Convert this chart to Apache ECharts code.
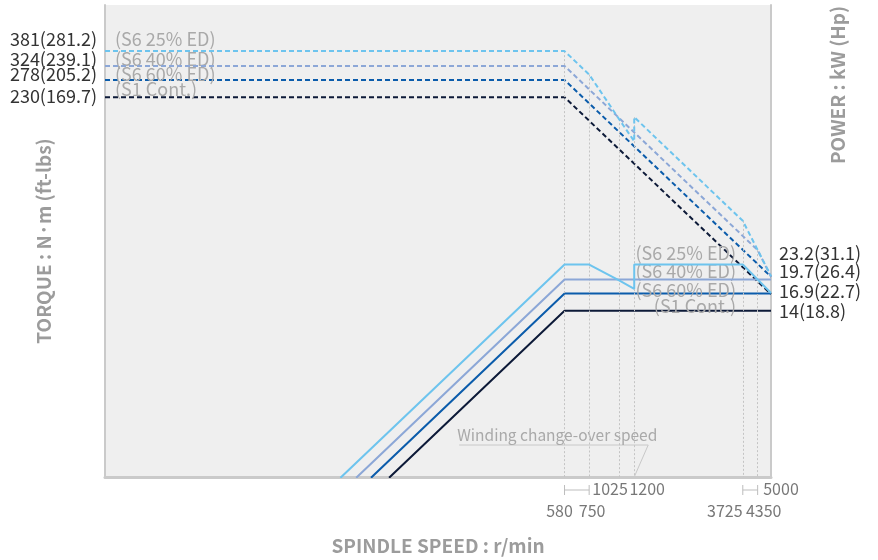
<!DOCTYPE html>
<html>
<head>
<meta charset="utf-8">
<title>Spindle output</title>
<script src="https://cdn.jsdelivr.net/npm/echarts@6/dist/echarts.min.js"></script>
<style>
  html, body { margin: 0; padding: 0; background: #fff; }
  #chart { width: 878px; height: 560px; }
</style>
</head>
<body>
<div id="chart"></div>
<script>
// axis ranges (all three axes are log scale)
var SPEED_MIN = 4.8;
var SPEED_MAX = 5000;
var TORQUE_RANGE = [3.61, 631];
var POWER_RANGE = [2.27, 397];

var ratingNames = ["(S6 25% ED)", "(S6 40% ED)", "(S6 60% ED)", "(S1 Cont.)"];
var ratedTorqueNm = [381, 324, 278, 230];
var ratedTorqueFtLb = [281.2, 239.1, 205.2, 169.7];
var ratedPowerKw = [23.2, 19.7, 16.9, 14];
var ratedPowerHp = [31.1, 26.4, 22.7, 18.8];
var colors = ["#6dc4ee", "#8ca7d7", "#0b5cab", "#0d1a38"];

// torque curves [r/min, N·m]
var torqueS6_25 = [[SPEED_MIN, 381], [580, 381], [750, 295], [1025, 181], [1200, 142], [1200, 185], [3725, 59.5], [5000, 32.5]];
var torqueS6_40 = [[SPEED_MIN, 324], [580, 324], [4350, 43.2], [5000, 32.3]];
var torqueS6_60 = [[SPEED_MIN, 278], [580, 278], [5000, 32.3]];
var torqueS1 = [[SPEED_MIN, 230], [580, 230], [5000, 26.7]];

// power curves [r/min, kW]
var powerS6_25 = [[56, 2.25], [580, 23.2], [750, 23.2], [1025, 19.5], [1200, 17.8], [1200, 23.2], [3725, 23.2], [5000, 17]];
var powerS6_40 = [[66, 2.25], [580, 19.7], [5000, 19.7]];
var powerS6_60 = [[77, 2.25], [580, 16.9], [5000, 16.9]];
var powerS1 = [[93, 2.25], [580, 14], [5000, 14]];

var speedTicks = [580, 750, 1025, 1200, 3725, 4350, 5000];
// torque where each dotted guide starts (top of the curves)
var guideTops = [381, 295, 181, 185, 59.5, 43.2];
var brackets = [[580, 750], [3725, 4350]];
var WINDING_SPEED = 1200;

var torqueData = [torqueS6_25, torqueS6_40, torqueS6_60, torqueS1];
var powerData = [powerS6_25, powerS6_40, powerS6_60, powerS1];

var FONT = "'Noto Sans CJK KR', 'Noto Sans', sans-serif";
var GRAY = "#a9a9a9";
var DARK = "#333333";
var NAME_GRAY = "#9c9c9c";

// label offsets (px) for the stacked texts
var leftValueDy = [-12, -7, -6, -1];
var leftNameDy = [-12, -7, -6, -8];
var rightValueDy = [-11, -8, -2, 0];
var rightNameDy = [-11, -8, -3, -5];
var tickOffsets = [[-5, 34], [3, 34], [-9, 12], [13, 12], [-18, 34], [6, 34], [10, 12]];

var chart = echarts.init(document.getElementById("chart"));

var series = [];

series.push({
  name: "guides",
  type: "line",
  data: [],
  z: 1,
  silent: true,
  markLine: {
    symbol: "none",
    silent: true,
    animation: false,
    label: { show: false },
    lineStyle: { color: "#c4c4c4", width: 1, type: [2, 2] },
    data: guideTops.map(function (t, i) {
      return [{ coord: [speedTicks[i], t] }, { coord: [speedTicks[i], TORQUE_RANGE[0]] }];
    })
  }
});

torqueData.forEach(function (d, i) {
  series.push({
    name: ratingNames[i] + " torque",
    type: "line",
    yAxisIndex: 0,
    data: d,
    symbol: "none",
    z: 3 + (3 - i),
    lineStyle: { color: colors[i], width: 2, type: [5, 3] },
    markPoint: {
      symbol: "circle",
      symbolSize: 0,
      silent: true,
      animation: false,
      data: [
        {
          coord: [SPEED_MIN, ratedTorqueNm[i]],
          label: {
            show: true, position: "left", distance: 8, offset: [0, leftValueDy[i]],
            formatter: ratedTorqueNm[i] + "(" + ratedTorqueFtLb[i] + ")",
            color: DARK, fontSize: 18, fontFamily: FONT
          }
        },
        {
          coord: [SPEED_MIN, ratedTorqueNm[i]],
          label: {
            show: true, position: "right", distance: 10, offset: [0, leftNameDy[i]],
            formatter: ratingNames[i],
            color: GRAY, fontSize: 18, fontFamily: FONT
          }
        }
      ]
    }
  });
});

powerData.forEach(function (d, i) {
  series.push({
    name: ratingNames[i] + " power",
    type: "line",
    yAxisIndex: 1,
    data: d,
    symbol: "none",
    z: 3 + (3 - i),
    lineStyle: { color: colors[i], width: 2 },
    markPoint: {
      symbol: "circle",
      symbolSize: 0,
      silent: true,
      animation: false,
      data: [
        {
          coord: [SPEED_MAX, ratedPowerKw[i]],
          label: {
            show: true, position: "right", distance: 8, offset: [0, rightValueDy[i]],
            formatter: ratedPowerKw[i] + "(" + ratedPowerHp[i] + ")",
            color: DARK, fontSize: 18, fontFamily: FONT
          }
        },
        {
          coord: [SPEED_MAX, ratedPowerKw[i]],
          label: {
            show: true, position: "left", distance: 35, offset: [0, rightNameDy[i]],
            formatter: ratingNames[i],
            color: GRAY, fontSize: 18, fontFamily: FONT
          }
        }
      ]
    }
  });
});

series.push({
  name: "speed labels",
  type: "scatter",
  yAxisIndex: 0,
  symbolSize: 0,
  clip: false,
  silent: true,
  data: speedTicks.map(function (s, i) {
    return { value: [s, TORQUE_RANGE[0]], label: { offset: tickOffsets[i] } };
  }),
  label: {
    show: true,
    position: "inside",
    formatter: function (p) { return p.value[0]; },
    color: "#555",
    fontSize: 16,
    fontFamily: FONT
  }
});

var hidden = { show: false };

var option = {
  animation: false,
  textStyle: { fontFamily: FONT },
  grid: {
    left: 105, right: 107, top: 5, bottom: 83,
    outerBoundsMode: "none",
    show: true, backgroundColor: "#efefef", borderWidth: 0
  },
  xAxis: {
    type: "log",
    min: SPEED_MIN,
    max: SPEED_MAX,
    name: "SPINDLE SPEED : r/min",
    nameLocation: "middle",
    nameGap: 59,
    nameTextStyle: { color: NAME_GRAY, fontWeight: "bold", fontSize: 19, fontFamily: FONT },
    axisLine: { onZero: false, lineStyle: { color: "#cacaca", width: 3 } },
    axisTick: hidden, axisLabel: hidden, splitLine: hidden, minorTick: hidden
  },
  yAxis: [
    {
      type: "log",
      min: TORQUE_RANGE[0],
      max: TORQUE_RANGE[1],
      position: "left",
      name: "TORQUE : N·m (ft-lbs)",
      nameLocation: "middle",
      nameRotate: 90,
      nameGap: 52,
      nameTextStyle: { color: NAME_GRAY, fontWeight: "bold", fontSize: 19, fontFamily: FONT },
      axisLine: { show: true, onZero: false, lineStyle: { color: "#cacaca", width: 2 } },
      axisTick: hidden, axisLabel: hidden, splitLine: hidden
    },
    {
      type: "log",
      min: POWER_RANGE[0],
      max: POWER_RANGE[1],
      position: "right",
      axisLine: { show: true, onZero: false, lineStyle: { color: "#cacaca", width: 2 } },
      axisTick: hidden, axisLabel: hidden, splitLine: hidden
    }
  ],
  series: series
};

chart.setOption(option);

// pieces drawn under the axis and the change-over note, placed with the axis scales
var yBottom = chart.convertToPixel({ yAxisIndex: 0 }, TORQUE_RANGE[0]);
var px = function (s) { return chart.convertToPixel({ xAxisIndex: 0 }, s); };
var graphics = [];
var bracketStyle = { stroke: "#bdbdbd", lineWidth: 1 };
brackets.forEach(function (b) {
  var x1 = px(b[0]), x2 = px(b[1]), y = yBottom + 13;
  graphics.push({ type: "line", shape: { x1: x1, y1: y, x2: x2, y2: y }, style: bracketStyle, silent: true });
  graphics.push({ type: "line", shape: { x1: x1, y1: y - 5, x2: x1, y2: y + 5 }, style: bracketStyle, silent: true });
  graphics.push({ type: "line", shape: { x1: x2, y1: y - 5, x2: x2, y2: y + 5 }, style: bracketStyle, silent: true });
});
var xw = px(WINDING_SPEED);
graphics.push({
  type: "polyline",
  shape: { points: [[xw - 175, yBottom - 32], [xw + 14, yBottom - 32], [xw, yBottom]] },
  style: { stroke: "#c8c8c8", lineWidth: 1, fill: null },
  silent: true
});
graphics.push({
  type: "text",
  x: xw - 177,
  y: yBottom - 42,
  style: { text: "Winding change-over speed", fill: GRAY, font: "15.5px " + FONT, textAlign: "left", textVerticalAlign: "middle" },
  silent: true
});
graphics.push({
  type: "text",
  x: 838,
  y: 85,
  rotation: Math.PI / 2,
  style: { text: "POWER : kW (Hp)", fill: NAME_GRAY, font: "bold 19px " + FONT, textAlign: "center", textVerticalAlign: "middle" },
  silent: true
});

chart.setOption({ graphic: graphics });
</script>
</body>
</html>
